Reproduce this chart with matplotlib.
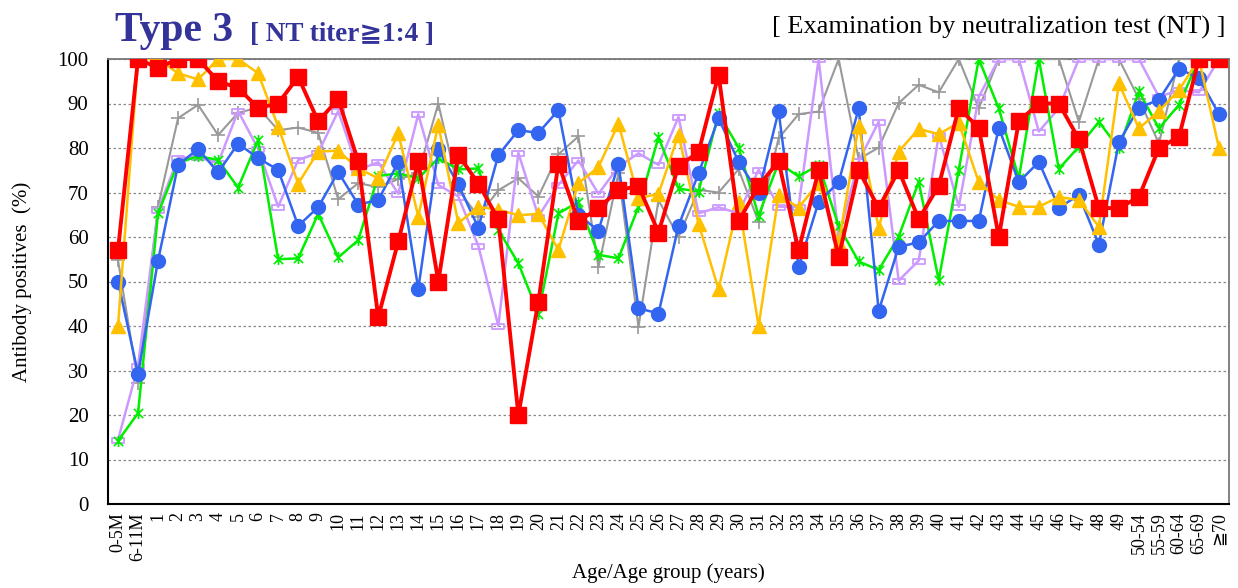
import matplotlib
matplotlib.use("Agg")
import matplotlib.pyplot as plt
from matplotlib.path import Path

plt.rcParams['font.family'] = ['Liberation Serif', 'DejaVu Serif', 'DejaVu Sans']

categories = ['0-5M', '6-11M'] + [str(a) for a in range(1, 50)] + ['50-54', '55-59', '60-64', '65-69', '≧70']

gray_vals = [54.8, 27.3,
             66.8, 86.7, 89.7, 82.9, 87.9, 89.1, 84, 84.6, 83.4, 68.5,
             72.1, 71.2, 73, 74.3, 90, 70.6, 64.6, 70.5, 73.2, 69.1,
             78.6, 82.6, 53.2, 74.3, 39.8, 68.3, 60, 70.6, 70, 75.2,
             63.4, 82.2, 87.6, 88.2, 100, 77.5, 80.1, 90.1, 94.2, 92.5,
             100, 88.9, 100, 100, 100, 100, 85.9, 100, 100,
             91, 81, 100, 100, 100]

lavender_vals = [14.4, 31,
                 66.1, 77.7, 78, 76.6, 88.3, 79.8, 66.8, 77.3, 78.9, 88.3,
                 75.1, 76.8, 69.7, 87.6, 71.7, 69.1, 58, 40, 78.9, 64.6,
                 71.7, 77.2, 69.7, 75.8, 78.8, 76.2, 87, 65.3, 66.7, 65.3,
                 75.1, 66.8, 66.8, 100, 60, 77, 85.9, 50.2, 54.7, 82.9,
                 66.8, 91.5, 100, 100, 83.7, 88.9, 100, 100, 100,
                 100, 91.5, 93, 92.5, 100]

green_vals = [14.2, 20.4,
              65.3, 76.6, 78.2, 77.3, 71.1, 81.8, 55, 55.2, 65.2, 55.4,
              59.3, 73.7, 74.3, 73.2, 77.7, 75.2, 75.4, 61.6, 54.1, 42.8,
              65.3, 67.9, 56, 55.2, 66.8, 82.4, 70.9, 70.2, 87.8, 80.1,
              64.8, 76.7, 73.6, 76.2, 62.5, 54.5, 52.6, 60.1, 72.4, 50.3,
              75.1, 100, 88.9, 73.2, 100, 75.3, 80.3, 85.9, 79.9,
              92.7, 84.4, 89.7, 100, 100]

blue_vals = [50, 29.3,
             54.7, 76.2, 79.8, 74.5, 81, 77.7, 75.1, 62.5, 66.7, 74.6,
             67.3, 68.3, 76.8, 48.3, 79.7, 71.8, 62.1, 78.4, 84, 83.4,
             88.5, 65, 61.4, 76.4, 44, 42.8, 62.5, 74.3, 86.7, 76.9,
             70, 88.3, 53.3, 67.9, 72.3, 88.9, 43.4, 57.8, 58.8, 63.6,
             63.6, 63.6, 84.6, 72.3, 76.9, 66.6, 69.4, 58.3, 81.3,
             89.1, 90.8, 97.8, 95.7, 87.6]

yellow_vals = [40, 100,
               100, 96.8, 95.4, 100, 100, 96.8, 84.8, 72, 79.2, 79.4,
               75.4, 73.2, 83.3, 64.6, 85.2, 63.1, 66.8, 66.1, 64.9, 65.2,
               57.1, 72.1, 75.7, 85.5, 68.7, 69.7, 83, 63, 48.3, 67.9,
               40, 69.4, 66.6, 72.2, 58.6, 85, 62, 79.2, 84.3, 83.1,
               85.7, 72.3, 68.3, 66.8, 66.8, 69, 68.3, 62.3, 94.5,
               84.4, 88.3, 93, 100, 80]

red_vals = [57, 100,
            98, 100, 100, 95, 93.5, 89, 90, 96, 86, 91,
            77, 42, 59, 77, 50, 78.5, 72, 64, 20, 45.5,
            76.5, 63.5, 66.5, 70.5, 71.5, 61, 76, 79, 96.5, 63.5,
            71.5, 77, 57, 75, 55.5, 75, 66.5, 75, 64, 71.5,
            89, 84.5, 60, 86, 90, 90, 82, 66.5, 66.5,
            69, 80, 82.5, 100, 100]

yticks = list(range(0, 101, 10))

# custom markers
star_marker = Path([(-1, -1), (1, 1), (-1, 1), (1, -1), (0, -1.2), (0, 1.2)],
                   [Path.MOVETO, Path.LINETO, Path.MOVETO, Path.LINETO, Path.MOVETO, Path.LINETO])
dash_marker = Path([(-1, -0.4), (1, -0.4), (1, 0.4), (-1, 0.4), (-1, -0.4)],
                   [Path.MOVETO, Path.LINETO, Path.LINETO, Path.LINETO, Path.CLOSEPOLY])

W, H = 1238, 588
fig = plt.figure(figsize=(W / 100, H / 100), dpi=100)
ax = fig.add_axes([108 / W, 1 - 504 / H, (1229 - 108) / W, (504 - 59) / H])

x = list(range(len(categories)))

ax.plot(x, gray_vals, color='#999999', lw=1.5, marker='+', ms=10, mew=1.2, zorder=3)
ax.plot(x, lavender_vals, color='#CC99FF', lw=1.8, marker=dash_marker, ms=9,
        mfc='none', mec='#CC99FF', mew=1.3, zorder=4)
ax.plot(x, green_vals, color='#00EE00', lw=1.8, marker=star_marker, ms=8, mew=1.2, zorder=5)
ax.plot(x, blue_vals, color='#3366F0', lw=1.8, marker='o', ms=10, zorder=6)
ax.plot(x, yellow_vals, color='#FFC000', lw=1.8, marker='^', ms=10, zorder=7)
ax.plot(x, red_vals, color='#FF0000', lw=2.8, marker='s', ms=11, zorder=8)

ax.set_xlim(-0.5, len(categories) - 0.5)
ax.set_ylim(0, 100)
ax.set_yticks(yticks)
ax.set_yticklabels([str(v) for v in yticks], fontsize=15)
ax.set_xticks(x)
ax.set_xticklabels(categories, rotation=90, fontsize=13,
                   family=['Liberation Serif', 'DejaVu Sans'])
ax.tick_params(axis='y', length=0, pad=14)
ax.tick_params(axis='x', length=0, pad=6)

ax.yaxis.grid(True, color='#888888', linestyle=(0, (2, 2)), lw=0.9)
ax.set_axisbelow(True)
for s in ['left', 'bottom']:
    ax.spines[s].set_color('black')
    ax.spines[s].set_linewidth(1.5)
ax.spines['top'].set_color('#777777')
ax.spines['top'].set_linewidth(1.3)
ax.spines['right'].set_color('#777777')
ax.spines['right'].set_linewidth(1.3)

ax.set_ylabel('Antibody positives  (%)', fontsize=15, labelpad=18)
ax.set_xlabel('Age/Age group (years)', fontsize=15, labelpad=2)

fig.text(115 / W, 1 - 41 / H, 'Type 3', fontsize=30, fontweight='bold',
         color='#333399', va='baseline', ha='left')
fig.text(250 / W, 1 - 41 / H, '[ NT titer≧1:4 ]', fontsize=19.5, fontweight='bold',
         color='#333399', va='baseline', ha='left',
         family=['Liberation Serif', 'DejaVu Serif', 'DejaVu Sans'])
fig.text(1226 / W, 1 - 34 / H, '[ Examination by neutralization test (NT) ]',
         fontsize=19, color='black', va='baseline', ha='right')

fig.savefig('out.png', dpi=100)
